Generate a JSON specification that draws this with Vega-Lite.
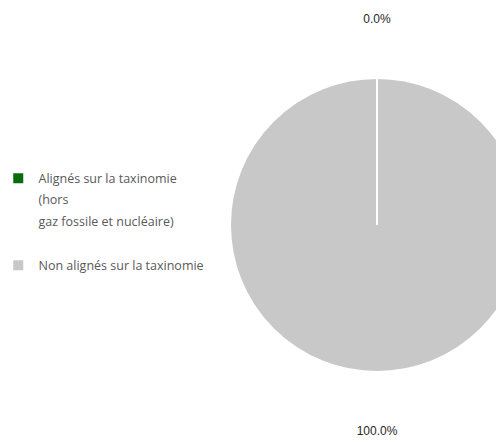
{
  "$schema": "https://vega.github.io/schema/vega-lite/v6.json",
  "width": 238,
  "height": 446,
  "autosize": "none",
  "padding": {"left": 258, "top": 2, "right": 0, "bottom": 0},
  "background": "white",
  "view": {"stroke": null},
  "data": {
    "values": [
      {"categorie": "Alignés sur la taxinomie (hors gaz fossile et nucléaire)", "ordre": 1, "part": 0, "etiquette": "0.0%"},
      {"categorie": "Non alignés sur la taxinomie", "ordre": 2, "part": 100, "etiquette": "100.0%"}
    ]
  },
  "encoding": {
    "theta": {"field": "part", "type": "quantitative", "stack": true},
    "order": {"field": "ordre", "type": "quantitative"}
  },
  "layer": [
    {
      "mark": {"type": "arc", "outerRadius": 147, "strokeWidth": 0},
      "encoding": {
        "color": {
          "field": "categorie",
          "type": "nominal",
          "scale": {
            "domain": ["Alignés sur la taxinomie (hors gaz fossile et nucléaire)", "Non alignés sur la taxinomie"],
            "range": ["#0a6b0a", "#c8c8c8"]
          },
          "legend": {
            "title": null,
            "orient": "none",
            "legendX": -246,
            "legendY": 170,
            "symbolType": "square",
            "symbolSize": 100,
            "symbolStrokeWidth": 0,
            "labelFont": "Open Sans",
            "labelFontSize": 12.5,
            "labelColor": "#595959",
            "labelOffset": 14,
            "labelLimit": 300,
            "labelBaseline": "alphabetic",
            "rowPadding": 30,
            "labelExpr": "datum.label == 'Alignés sur la taxinomie (hors gaz fossile et nucléaire)' ? ['Alignés sur la taxinomie', '(hors', 'gaz fossile et nucléaire)'] : datum.label"
          }
        }
      }
    },
    {
      "mark": {"type": "arc", "outerRadius": 147, "fillOpacity": 0, "stroke": "white", "strokeWidth": 2}
    },
    {
      "mark": {"type": "text", "radius": 206, "font": "Liberation Sans", "fontSize": 12, "color": "#262626"},
      "encoding": {
        "text": {"field": "etiquette", "type": "nominal"}
      }
    }
  ],
  "config": {
    "style": {"guide-label": {"lineHeight": 21.5, "dy": 4.5}}
  }
}
